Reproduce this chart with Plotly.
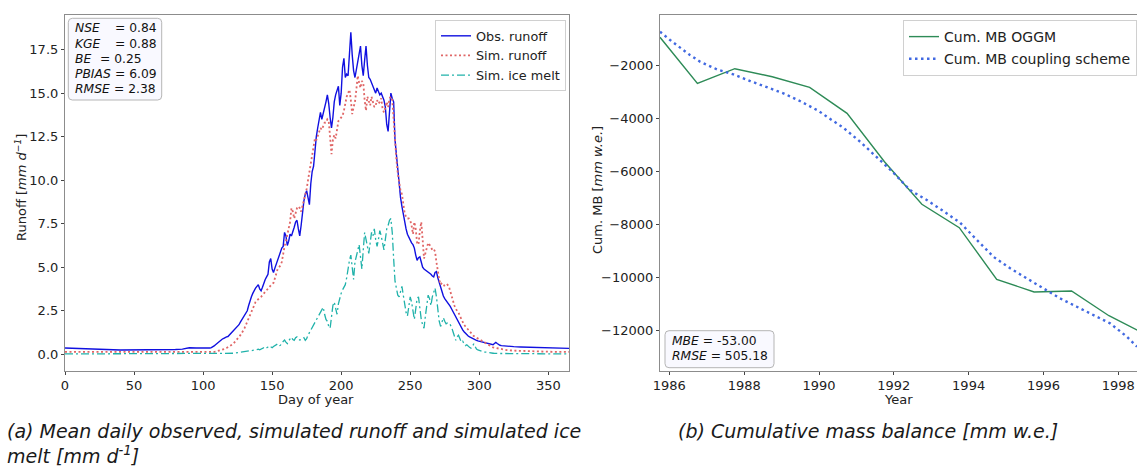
import plotly.graph_objects as go

W, H = 1137, 468

# ---------------- (a) mean daily runoff ----------------
day = list(range(0, 100, 5)) + list(range(100, 321)) + list(range(325, 366, 5))

obs_runoff = [
    # days 0-95, every 5 days
    0.36, 0.34, 0.32, 0.30, 0.29, 0.28, 0.27, 0.26, 0.25, 0.25,
    0.24, 0.24, 0.24, 0.25, 0.26, 0.27, 0.28, 0.30, 0.38, 0.36,
    # days 100-320, daily
    0.35, 0.33, 0.33, 0.34, 0.35, 0.36, 0.38, 0.42, 0.48, 0.55,
    0.62, 0.70, 0.78, 0.84, 0.88, 0.92, 0.98, 1.00, 1.02, 1.10,
    1.22, 1.30, 1.38, 1.45, 1.55, 1.62, 1.70, 1.85, 1.98, 2.10,
    2.20, 2.30, 2.50, 2.80, 3.10, 3.30, 3.50, 3.70, 3.80, 3.90,
    4.00, 3.75, 3.65, 3.85, 4.10, 4.30, 4.45, 4.60, 5.30, 5.50,
    4.90, 4.70, 4.95, 5.20, 5.35, 5.60, 5.90, 6.10, 6.20, 7.00,
    6.80, 6.25, 6.50, 6.90, 6.80, 7.00, 7.30, 7.60, 7.70, 7.20,
    6.80, 7.40, 8.30, 8.80, 9.20, 9.40, 9.00, 8.60, 9.80, 10.50,
    10.80, 11.80, 12.50, 13.00, 13.60, 13.90, 13.50, 13.80, 14.20, 14.50,
    14.90, 14.40, 13.60, 13.00, 13.60, 14.50, 14.90, 15.20, 15.40, 14.30,
    15.00, 16.50, 17.00, 15.90, 16.10, 16.00, 17.40, 18.50, 17.20, 16.30,
    15.90, 16.30, 16.70, 17.20, 17.70, 16.60, 16.00, 16.90, 17.70, 16.60,
    15.90, 15.80, 15.60, 15.40, 15.20, 15.00, 15.30, 15.10, 14.90, 15.00,
    14.80, 14.60, 14.20, 13.20, 12.80, 14.00, 15.00, 14.70, 14.50, 12.30,
    11.50, 10.50, 9.60, 9.00, 8.50, 8.00, 7.60, 7.20, 6.90, 6.70,
    6.60, 6.40, 6.30, 6.10, 5.70, 5.40, 5.55, 5.60, 5.30, 5.00,
    4.90, 4.85, 4.80, 4.75, 4.70, 4.60, 4.50, 4.45, 4.70, 4.75,
    4.40, 4.10, 3.95, 3.60, 3.35, 3.20, 3.10, 3.00, 2.90, 2.75,
    2.60, 2.45, 2.30, 2.10, 1.95, 1.80, 1.65, 1.50, 1.40, 1.30,
    1.20, 1.10, 1.05, 1.00, 0.95, 0.90, 0.87, 0.83, 0.80, 0.77,
    0.75, 0.72, 0.70, 0.68, 0.66, 0.64, 0.62, 0.60, 0.58, 0.56,
    0.55, 0.62, 0.68, 0.62, 0.55, 0.52, 0.50, 0.49, 0.48, 0.47,
    0.46,
    # days 325-365, every 5 days
    0.44, 0.42, 0.41, 0.40, 0.39, 0.37, 0.36, 0.35, 0.34,
]

sim_runoff = [
    0.14, 0.14, 0.13, 0.13, 0.12, 0.12, 0.12, 0.11, 0.11, 0.11,
    0.10, 0.10, 0.10, 0.10, 0.10, 0.10, 0.10, 0.10, 0.10, 0.10,
    0.10, 0.10, 0.10, 0.11, 0.11, 0.12, 0.12, 0.13, 0.14, 0.15,
    0.17, 0.19, 0.21, 0.23, 0.26, 0.29, 0.32, 0.36, 0.40, 0.45,
    0.50, 0.56, 0.62, 0.70, 0.80, 0.90, 1.00, 1.10, 1.20, 1.35,
    1.50, 1.70, 1.85, 2.00, 2.20, 2.40, 2.65, 2.85, 3.00, 3.10,
    3.15, 3.25, 3.30, 3.40, 3.50, 3.60, 3.70, 3.80, 3.90, 4.00,
    4.05, 4.10, 4.40, 4.70, 4.90, 5.00, 5.10, 5.30, 5.80, 6.20,
    6.50, 6.90, 7.20, 7.60, 8.40, 8.20, 7.80, 8.10, 8.40, 8.50,
    8.40, 8.20, 8.50, 8.80, 9.20, 9.50, 10.00, 10.50, 11.00, 11.50,
    12.00, 12.40, 12.30, 12.50, 12.80, 13.00, 12.90, 13.10, 13.30, 13.30,
    13.50, 13.40, 12.20, 11.50, 12.30, 12.60, 12.40, 12.90, 13.40, 13.50,
    13.60, 13.70, 14.00, 14.50, 14.80, 15.00, 15.20, 14.60, 13.80, 14.20,
    14.50, 15.20, 16.00, 15.60, 15.30, 15.70, 15.60, 14.60, 14.00, 14.80,
    14.50, 14.30, 14.80, 14.40, 14.20, 14.30, 14.60, 14.40, 14.50, 14.70,
    14.10, 13.90, 14.30, 14.50, 14.20, 14.70, 14.80, 14.60, 13.50, 12.20,
    11.20, 10.40, 9.80, 9.40, 9.20, 8.60, 8.10, 7.90, 7.80, 7.80,
    7.70, 7.40, 6.90, 7.60, 7.20, 6.40, 6.30, 7.10, 7.60, 6.60,
    5.50, 5.80, 6.20, 6.40, 6.30, 6.10, 6.00, 6.05, 5.90, 5.30,
    4.70, 4.30, 4.00, 4.10, 4.05, 3.90, 3.95, 4.00, 3.90, 3.60,
    3.30, 3.00, 2.80, 2.60, 2.50, 2.40, 2.20, 2.00, 1.85, 1.70,
    1.60, 1.50, 1.40, 1.30, 1.20, 1.10, 1.05, 1.00, 0.95, 0.90,
    0.85, 0.80, 0.75, 0.70, 0.65, 0.60, 0.55, 0.50, 0.46, 0.43,
    0.40, 0.38, 0.36, 0.34, 0.32, 0.30, 0.28, 0.27, 0.26, 0.25,
    0.24,
    0.21, 0.19, 0.17, 0.16, 0.15, 0.15, 0.14, 0.14, 0.14,
]

sim_ice_melt = [
    0.02, 0.02, 0.02, 0.02, 0.02, 0.02, 0.02, 0.02, 0.02, 0.02,
    0.02, 0.02, 0.02, 0.02, 0.02, 0.02, 0.02, 0.02, 0.02, 0.02,
    0.02, 0.02, 0.02, 0.02, 0.02, 0.02, 0.02, 0.02, 0.03, 0.03,
    0.03, 0.03, 0.03, 0.03, 0.04, 0.04, 0.04, 0.04, 0.05, 0.05,
    0.05, 0.05, 0.06, 0.07, 0.08, 0.09, 0.10, 0.11, 0.12, 0.13,
    0.14, 0.15, 0.16, 0.18, 0.20, 0.21, 0.22, 0.24, 0.25, 0.27,
    0.30, 0.26, 0.30, 0.35, 0.38, 0.33, 0.36, 0.42, 0.48, 0.40,
    0.38, 0.45, 0.50, 0.55, 0.60, 0.50, 0.52, 0.65, 0.75, 0.82,
    0.70, 0.62, 0.78, 0.90, 0.98, 0.85, 0.80, 0.95, 1.00, 0.90,
    0.82, 0.85, 0.90, 0.95, 0.80, 0.90, 1.10, 1.25, 1.40, 1.50,
    1.70, 1.85, 2.00, 2.10, 2.30, 2.45, 2.60, 2.70, 2.30, 2.00,
    1.90, 1.60, 1.50, 2.20, 2.80, 3.00, 2.60, 2.30, 2.90, 3.30,
    3.50, 3.70, 3.90, 4.00, 4.40, 5.00, 5.40, 5.70, 4.80, 4.30,
    5.30, 5.60, 6.00, 6.30, 5.60, 4.90, 6.00, 7.00, 6.60, 6.20,
    5.80, 6.40, 7.00, 6.80, 7.20, 6.60, 6.20, 6.60, 7.10, 6.80,
    6.30, 6.00, 6.60, 7.20, 7.40, 7.70, 7.80, 7.00, 5.50, 4.20,
    3.80, 3.40, 3.30, 3.70, 3.90, 3.40, 2.80, 2.40, 2.20, 2.70,
    3.30, 3.00, 2.40, 2.00, 2.60, 3.20, 3.30, 2.60, 2.00, 1.70,
    1.50, 2.20, 2.90, 3.40, 3.20, 2.80, 3.30, 3.60, 3.80, 3.30,
    2.40, 1.90, 1.60, 1.80, 2.10, 1.90, 1.75, 1.80, 1.80, 1.70,
    1.55, 1.30, 1.00, 0.80, 1.00, 1.10, 0.90, 0.70, 0.75, 0.60,
    0.50, 0.55, 0.45, 0.40, 0.35, 0.42, 0.60, 0.45, 0.30, 0.25,
    0.22, 0.20, 0.18, 0.15, 0.13, 0.12, 0.10, 0.09, 0.08, 0.07,
    0.06, 0.05, 0.05, 0.05, 0.04, 0.04, 0.04, 0.03, 0.03, 0.03,
    0.03,
    0.02, 0.02, 0.02, 0.02, 0.02, 0.02, 0.02, 0.02, 0.02,
]

runoff_stats = [("NSE", "= 0.84"), ("KGE", "= 0.88"), ("BE", "= 0.25"),
                ("PBIAS", "= 6.09"), ("RMSE", "= 2.38")]
runoff_yticks = [0.0, 2.5, 5.0, 7.5, 10.0, 12.5, 15.0, 17.5]
runoff_xticks = [0, 50, 100, 150, 200, 250, 300, 350]

# ---------------- (b) cumulative mass balance ----------------
oggm_year = [1985.75, 1986.75, 1987.75, 1988.75, 1989.75, 1990.75, 1991.75,
             1992.75, 1993.75, 1994.75, 1995.75, 1996.75, 1997.75, 1998.75]
oggm_cum_mb = [-955, -2691, -2140, -2442, -2842, -3823, -5649,
               -7257, -8140, -10088, -10567, -10529, -11461, -12176]

coupling_year = [1985.75, 1986.02, 1986.55, 1986.82, 1987.27, 1987.71, 1988.16,
                 1988.60, 1989.05, 1989.49, 1989.98, 1990.21, 1990.65, 1991.10,
                 1991.54, 1991.99, 1992.43, 1992.88, 1993.32, 1993.77, 1994.22,
                 1994.66, 1995.11, 1995.55, 1995.99, 1996.44, 1996.89, 1997.33,
                 1997.78, 1998.23, 1998.50]
coupling_cum_mb = [-743, -1057, -1623, -1875, -2162, -2351, -2604,
                   -2819, -3068, -3359, -3725, -3951, -4366, -4895,
                   -5461, -6065, -6718, -7095, -7510, -7950, -8600,
                   -9235, -9673, -10050, -10427, -10805, -11122, -11435,
                   -11748, -12254, -12631]

mb_stats = [("MBE", "= -53.00"), ("RMSE", "= 505.18")]
mb_yticks = [-2000, -4000, -6000, -8000, -10000, -12000]
mb_xticks = [1986, 1988, 1990, 1992, 1994, 1996, 1998]


def px(x):
    return x / W


def py(y):
    return 1 - y / H


TICK_FONT = dict(family="DejaVu Sans", size=13, color="#222")
SPINE = "#8c8c8c"

fig = go.Figure()

fig.add_trace(go.Scatter(x=day, y=obs_runoff, mode="lines", name="Obs. runoff",
                         line=dict(color="#1010e0", width=1.4),
                         legend="legend", xaxis="x", yaxis="y"))
fig.add_trace(go.Scatter(x=day, y=sim_runoff, mode="lines", name="Sim. runoff",
                         line=dict(color="#e06666", width=1.8, dash="2px,2.5px"),
                         legend="legend", xaxis="x", yaxis="y"))
fig.add_trace(go.Scatter(x=day, y=sim_ice_melt, mode="lines", name="Sim. ice melt",
                         line=dict(color="#20b2aa", width=1.3, dash="8px,3px,2px,3px"),
                         legend="legend", xaxis="x", yaxis="y"))

fig.add_trace(go.Scatter(x=oggm_year, y=oggm_cum_mb, mode="lines", name="Cum. MB OGGM",
                         line=dict(color="#2e8b57", width=1.4),
                         legend="legend2", legendgroup="b1",
                         xaxis="x2", yaxis="y2"))
fig.add_trace(go.Scatter(x=coupling_year, y=coupling_cum_mb, mode="lines",
                         name="Cum. MB coupling scheme",
                         line=dict(color="#4169e1", width=2.4, dash="2.5px,3.5px"),
                         legend="legend2", legendgroup="b2",
                         xaxis="x2", yaxis="y2"))

axis_common = dict(showgrid=False, zeroline=False, showline=True, linecolor=SPINE,
                   linewidth=1.2, mirror=True, ticks="outside", ticklen=3,
                   tickcolor="#444", tickwidth=1, tickfont=TICK_FONT, automargin=False)

fig.update_layout(
    width=W, height=H,
    margin=dict(l=0, r=0, t=0, b=0),
    paper_bgcolor="white", plot_bgcolor="white",
    xaxis=dict(domain=[px(65), px(569)], range=[0, 365], anchor="y",
               tickvals=runoff_xticks, **axis_common),
    yaxis=dict(domain=[py(370.5), py(15)], range=[-0.93, 19.49], anchor="x",
               tickvals=runoff_yticks,
               ticktext=[f"{v:.1f}" for v in runoff_yticks], **axis_common),
    xaxis2=dict(domain=[px(660), 1.0], range=[1985.75, 1998.5], anchor="y2",
                tickvals=mb_xticks, **axis_common),
    yaxis2=dict(domain=[py(370.7), py(15)], range=[-13536, -113], anchor="x2",
                tickvals=mb_yticks,
                ticktext=[f"\u2212{abs(v)}" for v in mb_yticks], **axis_common),
    legend=dict(x=px(566), y=py(20), xanchor="right", yanchor="top",
                bgcolor="rgba(255,255,255,0.85)", bordercolor="#d0d0d0", borderwidth=1,
                font=dict(family="DejaVu Sans", size=12.8, color="#222")),
    legend2=dict(x=1.0, y=py(20), xanchor="right", yanchor="top",
                 bgcolor="rgba(255,255,255,0.85)", bordercolor="#d0d0d0", borderwidth=1,
                 font=dict(family="DejaVu Sans", size=14, color="#222"),
                 tracegroupgap=1),
)


def rounded_box(x0, y0, x1, y1, r=4):
    """Rounded rectangle given in pixel coordinates, returned as a paper path."""
    pts = [
        f"M {px(x0 + r)},{py(y0)}",
        f"L {px(x1 - r)},{py(y0)}",
        f"Q {px(x1)},{py(y0)} {px(x1)},{py(y0 + r)}",
        f"L {px(x1)},{py(y1 - r)}",
        f"Q {px(x1)},{py(y1)} {px(x1 - r)},{py(y1)}",
        f"L {px(x0 + r)},{py(y1)}",
        f"Q {px(x0)},{py(y1)} {px(x0)},{py(y1 - r)}",
        f"L {px(x0)},{py(y0 + r)}",
        f"Q {px(x0)},{py(y0)} {px(x0 + r)},{py(y0)}",
        "Z",
    ]
    return dict(type="path", path=" ".join(pts), xref="paper", yref="paper",
                fillcolor="rgba(248,248,255,0.92)", line=dict(color="#b5b5b5", width=1),
                layer="above")


fig.add_shape(rounded_box(68.3, 18.3, 161.7, 100))
fig.add_shape(rounded_box(665, 330.7, 774, 367.7))

annotations = []
STAT_FONT = dict(family="DejaVu Sans", size=12.3, color="#111")

# statistics of panel (a): name in italics, "=" column per line
eq_x = [112.5, 112.5, 97.5, 112.5, 111.5]
for i, ((name, val), ex) in enumerate(zip(runoff_stats, eq_x)):
    yy = 28.3 + i * 15.25
    annotations.append(dict(x=px(72.5), y=py(yy), xanchor="left",
                            text=f"<i>{name}</i>", font=STAT_FONT))
    annotations.append(dict(x=px(ex), y=py(yy), xanchor="left",
                            text=val, font=STAT_FONT))

# statistics of panel (b)
for i, (name, val) in enumerate(mb_stats):
    yy = 340.7 + i * 15.0
    annotations.append(dict(x=px(669.5), y=py(yy), xanchor="left",
                            text=f"<i>{name}</i> {val}", font=STAT_FONT))

LABEL_FONT = dict(family="DejaVu Sans", size=13, color="#222")
annotations += [
    dict(x=px(316), y=py(399), xanchor="center", text="Day of year", font=LABEL_FONT),
    dict(x=px(898), y=py(399), xanchor="center", text="Year", font=LABEL_FONT),
    dict(x=px(21), y=py(188), xanchor="center",
         text="Runoff [<i>mm d</i><sup><i>\u22121</i></sup>]",
         textangle=-90, font=LABEL_FONT),
    dict(x=px(597), y=py(190), xanchor="center", text="Cum. MB [<i>mm w.e.</i>]",
         textangle=-90, font=LABEL_FONT),
]

CAP_FONT = dict(family="DejaVu Sans", size=19, color="#1a1a1a")
annotations += [
    dict(x=px(5), y=py(431), xanchor="left",
         text="<i>(a) Mean daily observed, simulated runoff and simulated ice</i>",
         font=CAP_FONT),
    dict(x=px(5), y=py(455), xanchor="left",
         text="<i>melt [mm d<sup>-1</sup>]</i>", font=CAP_FONT),
    dict(x=px(868), y=py(431), xanchor="center",
         text="<i>(b) Cumulative mass balance [mm w.e.]</i>", font=CAP_FONT),
]

for a in annotations:
    a.setdefault("xref", "paper")
    a.setdefault("yref", "paper")
    a.setdefault("showarrow", False)
    a.setdefault("yanchor", "middle")
    fig.add_annotation(**a)

fig.write_html("out.html")
